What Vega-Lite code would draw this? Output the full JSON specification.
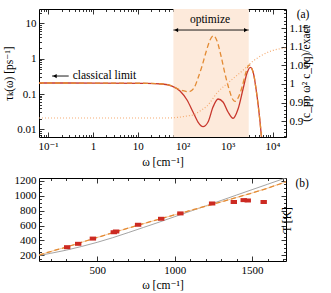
{
  "$schema": "https://vega.github.io/schema/vega-lite/v6.json",
  "padding": {"left": 3, "top": 3, "right": 2, "bottom": 2},
  "spacing": 5,
  "config": {
    "font": "'Liberation Serif', 'Times New Roman', 'DejaVu Serif', serif",
    "view": {"stroke": "black", "strokeWidth": 1},
    "axis": {"domain": false, "tickColor": "black", "tickWidth": 0.8, "labelFont": "'Liberation Serif', 'Times New Roman', 'DejaVu Serif', serif", "labelFontSize": 11, "labelColor": "black", "titleFont": "'Liberation Serif', 'Times New Roman', 'DejaVu Serif', serif", "titleFontSize": 11.5, "titleFontWeight": "normal", "titleColor": "black", "grid": false, "labelPadding": 8, "labelFlush": false, "labelOverlap": false},
    "text": {"font": "'Liberation Serif', 'Times New Roman', 'DejaVu Serif', serif", "fontSize": 11}
  },
  "datasets": {
    "region": [{"start": 62, "end": 2950}],
    "red": [
      {"omega": 0.063, "tau": 0.205}, {"omega": 1.2, "tau": 0.204}, {"omega": 16, "tau": 0.201}, {"omega": 34.6, "tau": 0.192},
      {"omega": 57.8, "tau": 0.168}, {"omega": 87.1, "tau": 0.122}, {"omega": 124.7, "tau": 0.0676}, {"omega": 169.5, "tau": 0.031},
      {"omega": 219, "tau": 0.0161}, {"omega": 283, "tau": 0.0119}, {"omega": 366, "tau": 0.0161}, {"omega": 473, "tau": 0.0428},
      {"omega": 611, "tau": 0.0722}, {"omega": 790, "tau": 0.0594}, {"omega": 1021, "tau": 0.031}, {"omega": 1320, "tau": 0.0205},
      {"omega": 1707, "tau": 0.0376}, {"omega": 2205, "tau": 0.1386}, {"omega": 2705, "tau": 0.393}, {"omega": 3206, "tau": 0.57},
      {"omega": 3493, "tau": 0.511}, {"omega": 3874, "tau": 0.323}, {"omega": 4294, "tau": 0.1386}, {"omega": 4758, "tau": 0.0521},
      {"omega": 5275, "tau": 0.0161}, {"omega": 5690, "tau": 0.00607}, {"omega": 5900, "tau": 0.0045}
    ],
    "dashed": [
      {"omega": 0.063, "tau": 0.205}, {"omega": 1.2, "tau": 0.204}, {"omega": 16, "tau": 0.201}, {"omega": 34.6, "tau": 0.192},
      {"omega": 57.8, "tau": 0.168}, {"omega": 74.7, "tau": 0.143}, {"omega": 101.6, "tau": 0.124}, {"omega": 138, "tau": 0.116},
      {"omega": 178.6, "tau": 0.148}, {"omega": 219.3, "tau": 0.284}, {"omega": 269.3, "tau": 0.62}, {"omega": 330.6, "tau": 1.545},
      {"omega": 405.9, "tau": 3.377}, {"omega": 485.5, "tau": 4.467}, {"omega": 580.6, "tau": 3.162}, {"omega": 713, "tau": 1.19},
      {"omega": 875.5, "tau": 0.368}, {"omega": 1075, "tau": 0.1386}, {"omega": 1285, "tau": 0.0722}, {"omega": 1461, "tau": 0.0621},
      {"omega": 1706, "tau": 0.0771}, {"omega": 2095, "tau": 0.158}, {"omega": 2572, "tau": 0.42}, {"omega": 2999, "tau": 0.662},
      {"omega": 3206, "tau": 0.63}, {"omega": 3493, "tau": 0.511}, {"omega": 3874, "tau": 0.323}, {"omega": 4294, "tau": 0.1386},
      {"omega": 4758, "tau": 0.0521}, {"omega": 5275, "tau": 0.0161}, {"omega": 5690, "tau": 0.00607}, {"omega": 5900, "tau": 0.0045}
    ],
    "dotted": [
      {"omega": 0.063, "ratio": 0.9086}, {"omega": 44.7, "ratio": 0.9086}, {"omega": 74.7, "ratio": 0.91}, {"omega": 124.7, "ratio": 0.914},
      {"omega": 178.6, "ratio": 0.9175}, {"omega": 243, "ratio": 0.9274}, {"omega": 349, "ratio": 0.9409}, {"omega": 580.6, "ratio": 0.9758},
      {"omega": 1142, "ratio": 1.0081}, {"omega": 2366, "ratio": 1.0403}, {"omega": 3174, "ratio": 1.0551}, {"omega": 5436, "ratio": 1.0753},
      {"omega": 9317, "ratio": 1.0887}, {"omega": 15970, "ratio": 1.0954}, {"omega": 19900, "ratio": 1.0968}
    ],
    "arrows": [{"from": 0.1228, "to": 0.289, "tau": 0.323}, {"from": 62, "to": 2950, "tau": 6.48}],
    "headsLeft": [{"omega": 0.142, "tau": 0.323}, {"omega": 72, "tau": 6.48}],
    "headsRight": [{"omega": 2540, "tau": 6.48}],
    "labelsTop": [{"omega": 1.81, "tau": 0.323, "text": "classical limit"}, {"omega": 405, "tau": 12.43, "text": "optimize"}, {"omega": 47800, "tau": 17.2, "text": "(a)"}],
    "points": [
      {"omega": 306, "T": 310}, {"omega": 377, "T": 355}, {"omega": 472, "T": 425}, {"omega": 607, "T": 510}, {"omega": 622, "T": 520},
      {"omega": 764, "T": 610}, {"omega": 913, "T": 690}, {"omega": 1037, "T": 762}, {"omega": 1242, "T": 895}, {"omega": 1382, "T": 915},
      {"omega": 1446, "T": 940}, {"omega": 1472, "T": 935}, {"omega": 1575, "T": 915}
    ],
    "gray": [
      {"omega": 124, "T": 198}, {"omega": 200, "T": 228}, {"omega": 300, "T": 270}, {"omega": 400, "T": 320}, {"omega": 500, "T": 375},
      {"omega": 600, "T": 437}, {"omega": 700, "T": 505}, {"omega": 800, "T": 575}, {"omega": 900, "T": 645}, {"omega": 1000, "T": 718},
      {"omega": 1100, "T": 790}, {"omega": 1200, "T": 862}, {"omega": 1300, "T": 935}, {"omega": 1400, "T": 1008}, {"omega": 1500, "T": 1080},
      {"omega": 1600, "T": 1152}, {"omega": 1719, "T": 1238}
    ],
    "fit": [
      {"omega": 124, "T": 205}, {"omega": 200, "T": 252}, {"omega": 300, "T": 312}, {"omega": 450, "T": 408}, {"omega": 600, "T": 503},
      {"omega": 750, "T": 595}, {"omega": 900, "T": 685}, {"omega": 1050, "T": 772}, {"omega": 1200, "T": 858}, {"omega": 1400, "T": 975},
      {"omega": 1600, "T": 1100}, {"omega": 1719, "T": 1185}
    ],
    "labelsBottom": [{"omega": 1823, "T": 1156, "text": "(b)"}]
  },
  "vconcat": [
    {
      "width": 247,
      "height": 128,
      "resolve": {"scale": {"y": "independent"}, "axis": {"x": "independent", "y": "independent"}},
      "layer": [
        {
          "data": {"name": "region"},
          "mark": {"type": "rect", "color": "#fdeadb"},
          "encoding": {
            "x": {"field": "start", "type": "quantitative", "scale": {"type": "log", "domain": [0.063, 19950], "nice": false},
              "axis": {"orient": "bottom", "title": "ω [cm⁻¹]", "titlePadding": 3,
                "values": [0.07,0.08,0.09,0.1,0.2,0.3,0.4,0.5,0.6,0.7,0.8,0.9,1,2,3,4,5,6,7,8,9,10,20,30,40,50,60,70,80,90,100,200,300,400,500,600,700,800,900,1000,2000,3000,4000,5000,6000,7000,8000,9000,10000],
                "labelExpr": "datum.value == 0.1 ? '10⁻¹' : datum.value == 1 ? '1' : datum.value == 10 ? '10' : datum.value == 100 ? '10²' : datum.value == 1000 ? '10³' : datum.value == 10000 ? '10⁴' : ''",
                "tickSize": {"condition": {"test": "indexof([0.1,1,10,100,1000,10000], datum.value) >= 0", "value": -5}, "value": -2.5}}},
            "x2": {"field": "end"}
          }
        },
        {
          "data": {"name": "red"},
          "mark": {"type": "line", "color": "#c8372d", "strokeWidth": 1.3, "interpolate": "monotone", "clip": true},
          "encoding": {
            "x": {"field": "omega", "type": "quantitative", "scale": {"type": "log", "domain": [0.063, 19950], "nice": false}, "axis": null},
            "y": {"field": "tau", "type": "quantitative", "scale": {"type": "log", "domain": [0.00607, 25.5], "nice": false},
              "axis": {"orient": "left", "title": "τₖ(ω) [ps⁻¹]", "titlePadding": 2,
                "values": [0.007,0.008,0.009,0.01,0.02,0.03,0.04,0.05,0.06,0.07,0.08,0.09,0.1,0.2,0.3,0.4,0.5,0.6,0.7,0.8,0.9,1,2,3,4,5,6,7,8,9,10,20],
                "labelExpr": "datum.value == 0.01 ? '0.01' : datum.value == 0.1 ? '0.1' : datum.value == 1 ? '1' : datum.value == 10 ? '10' : ''",
                "tickSize": {"condition": {"test": "indexof([0.01,0.1,1,10], datum.value) >= 0", "value": -5}, "value": -2.5}}}
          }
        },
        {
          "data": {"name": "dashed"},
          "mark": {"type": "line", "color": "#e38b34", "strokeWidth": 1.3, "strokeDash": [5, 3], "interpolate": "monotone", "clip": true},
          "encoding": {
            "x": {"field": "omega", "type": "quantitative", "scale": {"type": "log", "domain": [0.063, 19950], "nice": false}, "axis": null},
            "y": {"field": "tau", "type": "quantitative", "scale": {"type": "log", "domain": [0.00607, 25.5], "nice": false}, "axis": null}
          }
        },
        {
          "data": {"name": "arrows"},
          "mark": {"type": "rule", "color": "black", "strokeWidth": 0.9},
          "encoding": {
            "x": {"field": "from", "type": "quantitative", "scale": {"type": "log", "domain": [0.063, 19950], "nice": false}, "axis": null},
            "x2": {"field": "to"},
            "y": {"field": "tau", "type": "quantitative", "scale": {"type": "log", "domain": [0.00607, 25.5], "nice": false}, "axis": null}
          }
        },
        {
          "data": {"name": "headsLeft"},
          "mark": {"type": "point", "shape": "triangle-left", "filled": true, "color": "black", "size": 18, "opacity": 1},
          "encoding": {
            "x": {"field": "omega", "type": "quantitative", "scale": {"type": "log", "domain": [0.063, 19950], "nice": false}, "axis": null},
            "y": {"field": "tau", "type": "quantitative", "scale": {"type": "log", "domain": [0.00607, 25.5], "nice": false}, "axis": null}
          }
        },
        {
          "data": {"name": "headsRight"},
          "mark": {"type": "point", "shape": "triangle-right", "filled": true, "color": "black", "size": 18, "opacity": 1},
          "encoding": {
            "x": {"field": "omega", "type": "quantitative", "scale": {"type": "log", "domain": [0.063, 19950], "nice": false}, "axis": null},
            "y": {"field": "tau", "type": "quantitative", "scale": {"type": "log", "domain": [0.00607, 25.5], "nice": false}, "axis": null}
          }
        },
        {
          "data": {"name": "labelsTop"},
          "mark": {"type": "text", "color": "black", "fontSize": 11.5, "align": "center", "baseline": "middle"},
          "encoding": {
            "x": {"field": "omega", "type": "quantitative", "scale": {"type": "log", "domain": [0.063, 19950], "nice": false}, "axis": null},
            "y": {"field": "tau", "type": "quantitative", "scale": {"type": "log", "domain": [0.00607, 25.5], "nice": false}, "axis": null},
            "text": {"field": "text"}
          }
        },
        {
          "data": {"name": "dotted"},
          "mark": {"type": "line", "color": "#f5ac73", "strokeWidth": 1.2, "strokeDash": [1, 2], "interpolate": "monotone", "clip": true},
          "encoding": {
            "x": {"field": "omega", "type": "quantitative", "scale": {"type": "log", "domain": [0.063, 19950], "nice": false},
              "axis": {"orient": "top", "title": null, "labels": false,
                "values": [0.07,0.08,0.09,0.1,0.2,0.3,0.4,0.5,0.6,0.7,0.8,0.9,1,2,3,4,5,6,7,8,9,10,20,30,40,50,60,70,80,90,100,200,300,400,500,600,700,800,900,1000,2000,3000,4000,5000,6000,7000,8000,9000,10000],
                "tickSize": {"condition": {"test": "indexof([0.1,1,10,100,1000,10000], datum.value) >= 0", "value": -5}, "value": -2.5}}},
            "y": {"field": "ratio", "type": "quantitative", "scale": {"type": "linear", "domain": [0.8575, 1.2016], "nice": false, "zero": false},
              "axis": {"orient": "right", "title": "(c_pp ω² c_qq)/exact", "titleAngle": 270, "titlePadding": 3,
                "values": [0.86,0.87,0.88,0.89,0.9,0.91,0.92,0.93,0.94,0.95,0.96,0.97,0.98,0.99,1,1.01,1.02,1.03,1.04,1.05,1.06,1.07,1.08,1.09,1.1,1.11,1.12,1.13,1.14,1.15,1.16,1.17,1.18,1.19,1.2],
                "labelExpr": "indexof([0.9,0.95,1,1.05,1.1,1.15], datum.value) >= 0 ? toString(datum.value) : ''",
                "tickSize": {"condition": {"test": "indexof([0.9,0.95,1,1.05,1.1,1.15], datum.value) >= 0", "value": -5}, "value": -2.5}}}
          }
        }
      ]
    },
    {
      "width": 247,
      "height": 83,
      "resolve": {"axis": {"x": "independent", "y": "independent"}},
      "layer": [
        {
          "data": {"name": "gray"},
          "mark": {"type": "line", "color": "#9a9a9a", "strokeWidth": 0.9, "interpolate": "monotone", "clip": true},
          "encoding": {
            "x": {"field": "omega", "type": "quantitative", "scale": {"domain": [124, 1719], "nice": false, "zero": false},
              "axis": {"orient": "bottom", "title": "ω [cm⁻¹]", "titlePadding": 2,
                "values": [200,300,400,500,600,700,800,900,1000,1100,1200,1300,1400,1500,1600,1700],
                "labelExpr": "datum.value % 500 == 0 ? toString(datum.value) : ''",
                "tickSize": {"condition": {"test": "datum.value % 500 == 0", "value": -5}, "value": -2.5}}},
            "y": {"field": "T", "type": "quantitative", "scale": {"domain": [125, 1236], "nice": false, "zero": false},
              "axis": {"orient": "left", "title": null,
                "values": [150,200,250,300,350,400,450,500,550,600,650,700,750,800,850,900,950,1000,1050,1100,1150,1200],
                "labelExpr": "datum.value % 200 == 0 ? toString(datum.value) : ''",
                "tickSize": {"condition": {"test": "datum.value % 200 == 0", "value": -5}, "value": -2.5}}}
          }
        },
        {
          "data": {"name": "fit"},
          "mark": {"type": "line", "color": "#f7c89c", "strokeWidth": 1, "interpolate": "monotone", "clip": true},
          "encoding": {
            "x": {"field": "omega", "type": "quantitative", "scale": {"domain": [124, 1719], "nice": false, "zero": false}, "axis": null},
            "y": {"field": "T", "type": "quantitative", "scale": {"domain": [125, 1236], "nice": false, "zero": false}, "axis": null}
          }
        },
        {
          "data": {"name": "fit"},
          "mark": {"type": "line", "color": "#e38b34", "strokeWidth": 1.3, "strokeDash": [5, 3], "interpolate": "monotone", "clip": true},
          "encoding": {
            "x": {"field": "omega", "type": "quantitative", "scale": {"domain": [124, 1719], "nice": false, "zero": false}, "axis": null},
            "y": {"field": "T", "type": "quantitative", "scale": {"domain": [125, 1236], "nice": false, "zero": false}, "axis": null}
          }
        },
        {
          "data": {"name": "points"},
          "mark": {"type": "point", "shape": "M-1.6,-1L1.6,-1L1.6,1L-1.6,1Z", "filled": true, "color": "#cc2a22", "size": 16, "opacity": 1},
          "encoding": {
            "x": {"field": "omega", "type": "quantitative", "scale": {"domain": [124, 1719], "nice": false, "zero": false}, "axis": null},
            "y": {"field": "T", "type": "quantitative", "scale": {"domain": [125, 1236], "nice": false, "zero": false}, "axis": null}
          }
        },
        {
          "data": {"name": "labelsBottom"},
          "mark": {"type": "text", "color": "black", "fontSize": 11.5, "align": "center", "baseline": "middle"},
          "encoding": {
            "x": {"field": "omega", "type": "quantitative", "scale": {"domain": [124, 1719], "nice": false, "zero": false},
              "axis": {"orient": "top", "title": null, "labels": false,
                "values": [200,300,400,500,600,700,800,900,1000,1100,1200,1300,1400,1500,1600,1700],
                "tickSize": {"condition": {"test": "datum.value % 500 == 0", "value": -5}, "value": -2.5}}},
            "y": {"field": "T", "type": "quantitative", "scale": {"domain": [125, 1236], "nice": false, "zero": false},
              "axis": {"orient": "right", "title": "T [K]", "titleAngle": 270, "titlePadding": 6, "labels": false,
                "values": [150,200,250,300,350,400,450,500,550,600,650,700,750,800,850,900,950,1000,1050,1100,1150,1200],
                "tickSize": {"condition": {"test": "datum.value % 200 == 0", "value": -5}, "value": -2.5}}},
            "text": {"field": "text"}
          }
        }
      ]
    }
  ]
}
